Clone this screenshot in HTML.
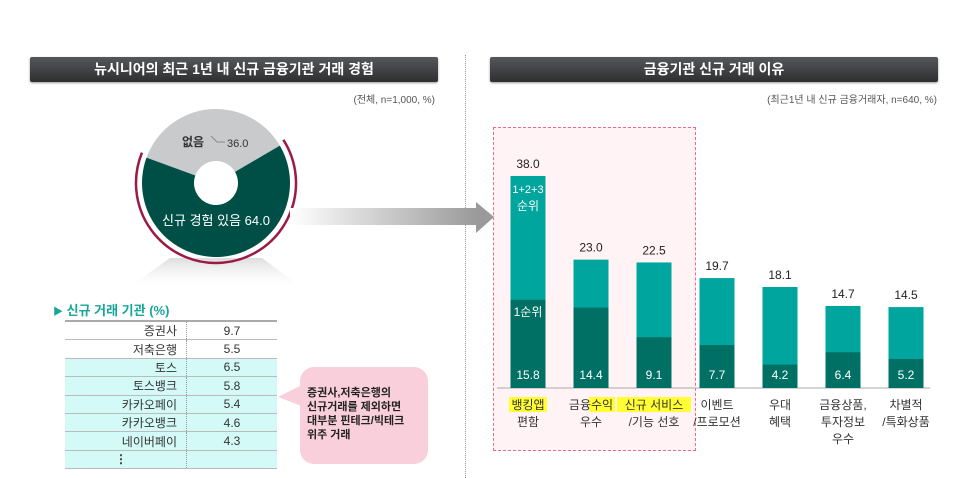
<!DOCTYPE html>
<html><head><meta charset="utf-8">
<style>
body{margin:0;width:957px;height:478px;background:#fff;position:relative;overflow:hidden;font-family:"Liberation Sans","Noto Sans CJK KR",sans-serif;}
.abs{position:absolute;}
.hdr{position:absolute;height:25px;background:linear-gradient(#55575a,#2e2f31);color:#fff;font-size:14px;font-weight:bold;text-align:center;line-height:25px;border-radius:2px;box-shadow:0 1px 2px #999;}
.sub{position:absolute;font-size:10px;color:#555;}
table{border-collapse:collapse;}
td{height:17.4px;font-size:12px;color:#333;padding:0;border-bottom:1px solid #bbb;}
</style></head><body>
<div class="hdr" style="left:30px;top:57px;width:408px;">뉴시니어의 최근 1년 내 신규 금융기관 거래 경험</div>
<div class="hdr" style="left:490px;top:57px;width:448px;">금융기관 신규 거래 이유</div>
<div class="sub" style="right:522px;top:91px;">(전체, n=1,000, %)</div>
<div class="sub" style="right:20px;top:91px;">(최근1년 내 신규 금융거래자, n=640, %)</div>
<div class="abs" style="left:465px;top:55px;height:423px;border-left:1px dotted #999;"></div>
<div class="abs" style="left:493px;top:127px;width:201px;height:322px;border:1px dashed #f06a8a;background:#fff3f6;"></div>

<svg class="abs" style="left:0;top:0" width="957" height="478">
<defs>
<linearGradient id="ag" x1="0" x2="1"><stop offset="0" stop-color="#fff"/><stop offset="1" stop-color="#9a9a9a"/></linearGradient>
<linearGradient id="sg" x1="0" x2="0" y1="0" y2="1"><stop offset="0" stop-color="#ddd"/><stop offset="1" stop-color="#fff" stop-opacity="0"/></linearGradient>
</defs>
<polygon points="170,258 262,258 305,290 125,290" fill="url(#sg)"/>
<g id="pie"></g>
<rect x="290" y="208" width="187" height="17" fill="url(#ag)"/>
<polygon points="476,202 494,217 476,233" fill="#9a9a9a"/>
<g id="bars"></g>
<polygon points="278,397 312,380 312,410" fill="#f9cfdb"/>
<rect x="300" y="367" width="128" height="97" rx="14" fill="#f9cfdb"/>
<text x="307" y="396" font-size="11" font-weight="bold" fill="#222"><tspan x="307">증권사,저축은행의</tspan><tspan x="307" dy="14">신규거래를 제외하면</tspan><tspan x="307" dy="14">대부분 핀테크/빅테크</tspan><tspan x="307" dy="14">위주 거래</tspan></text>
</svg>

<div class="abs" style="left:53px;top:300px;font-size:13px;color:#16a69a;font-weight:bold;"><span style="font-size:10px">▶</span> 신규 거래 기관 (%)</div>
<table class="abs" style="left:65px;top:320px;width:212px;border-top:2px solid #aaa;">
<tbody id="tb"></tbody></table>

<script>
const pieLabels=['신규 경험 있음','없음'];
const pieValues=[64.0,36.0];
const cats=[['뱅킹앱','편함'],['금융수익','우수'],['신규 서비스','/기능 선호'],['이벤트','/프로모션'],['우대','혜택'],['금융상품,','투자정보','우수'],['차별적','/특화상품']];
const totals=[38.0,23.0,22.5,19.7,18.1,14.7,14.5];
const firsts=[15.8,14.4,9.1,7.7,4.2,6.4,5.2];
const instNames=['증권사','저축은행','토스','토스뱅크','카카오페이','카카오뱅크','네이버페이','⋮'];
const instValues=['9.7','5.5','6.5','5.8','5.4','4.6','4.3',''];
const NS='http://www.w3.org/2000/svg';
function mk(t,a,p){const e=document.createElementNS(NS,t);for(const k in a)e.setAttribute(k,a[k]);p.appendChild(e);return e;}
// pie
const pg=document.getElementById('pie');const cx=216,cy=183,R=74,r=22;
function pt(a,rad){return [cx+rad*Math.sin(a),cy-rad*Math.cos(a)];}
const grayStart=-pieValues[1]/100*Math.PI*1.08;
let a0=grayStart+pieValues[1]/100*2*Math.PI;
function sector(s,e,col,name){const [x1,y1]=pt(s,R),[x2,y2]=pt(e,R),[x3,y3]=pt(e,r),[x4,y4]=pt(s,r);const lg=(e-s)>Math.PI?1:0;
const p=mk('path',{d:`M${x1},${y1}A${R},${R} 0 ${lg} 1 ${x2},${y2}L${x3},${y3}A${r},${r} 0 ${lg} 0 ${x4},${y4}Z`,fill:col},pg);

}
sector(grayStart,a0,'#c8cacc','pie-slice-none');
sector(a0,grayStart+2*Math.PI,'#004f47','pie-slice-new');
{const s=a0-0.04,e=grayStart+2*Math.PI+0.04,RR=80;const [x1,y1]=pt(s,RR),[x2,y2]=pt(e,RR);
const p=mk('path',{d:`M${x1},${y1}A${RR},${RR} 0 1 1 ${x2},${y2}`,fill:'none',stroke:'#9b1b45','stroke-width':2.5},pg);

}
let t=mk('text',{x:cx,y:225,'text-anchor':'middle','font-size':13,fill:'#fff'},pg);t.textContent=pieLabels[0]+' '+pieValues[0].toFixed(1);


t=mk('text',{x:182,y:146,'font-size':12,'font-weight':'bold',fill:'#333'},pg);t.textContent=pieLabels[1];


mk('path',{d:'M211,136 L217,142 L225,142',stroke:'#888',fill:'none'},pg);
t=mk('text',{x:227,y:147,'font-size':11,fill:'#333'},pg);t.textContent=pieValues[1].toFixed(1);


// bars
const bg=document.getElementById('bars');const base=388,k=5.58,x0=528,step=63,bw=35;
function y(v){return base-v*k;}
mk('line',{x1:497,x2:930,y1:base,y2:base,stroke:'#aaa'},bg);
totals.forEach((v,i)=>{const cxb=x0+i*step;
let b=mk('rect',{x:cxb-bw/2,y:y(v),width:bw,height:v*k,fill:'#00a59e'},bg);


b=mk('rect',{x:cxb-bw/2,y:y(firsts[i]),width:bw,height:firsts[i]*k,fill:'#007064'},bg);


let tt=mk('text',{x:cxb,y:y(v)-8,'text-anchor':'middle','font-size':12,fill:'#222'},bg);tt.textContent=v.toFixed(1);


tt=mk('text',{x:cxb,y:base-9,'text-anchor':'middle','font-size':12,fill:'#fff'},bg);tt.textContent=firsts[i].toFixed(1);


cats[i].forEach((ln,j)=>{
 if(i<3&&j==0){const w=ln.length*12;let hx=cxb-w/2;
  if(i==1){hx=cxb-2;mk('rect',{x:hx,y:397,width:26,height:15,fill:'#ffff33'},bg);}
  else mk('rect',{x:hx-1,y:397,width:w+2,height:15,fill:'#ffff33'},bg);}
 const c=mk('text',{x:cxb,y:409+j*17,'text-anchor':'middle','font-size':12,fill:'#333'},bg);c.textContent=ln;
 
 
});
});
let tt=mk('text',{x:x0,y:193,'text-anchor':'middle','font-size':11,fill:'#fff'},bg);tt.textContent='1+2+3';


tt=mk('text',{x:x0,y:210,'text-anchor':'middle','font-size':12,fill:'#fff'},bg);tt.textContent='순위';


tt=mk('text',{x:x0,y:316,'text-anchor':'middle','font-size':12,fill:'#fff'},bg);tt.textContent='1순위';


// table
const tb=document.getElementById('tb');
instNames.forEach((n,i)=>{const tr=document.createElement('tr');


if(i>=2)tr.style.background='#d3faf7';
tr.innerHTML=`<td style="text-align:right;padding-right:9px;width:112px;border-right:1px dotted #999;${i==7?'text-align:center;font-weight:bold;':''}">${n}</td><td style="text-align:center;">${instValues[i]}</td>`;
tb.appendChild(tr);});
</script>
</body></html>
